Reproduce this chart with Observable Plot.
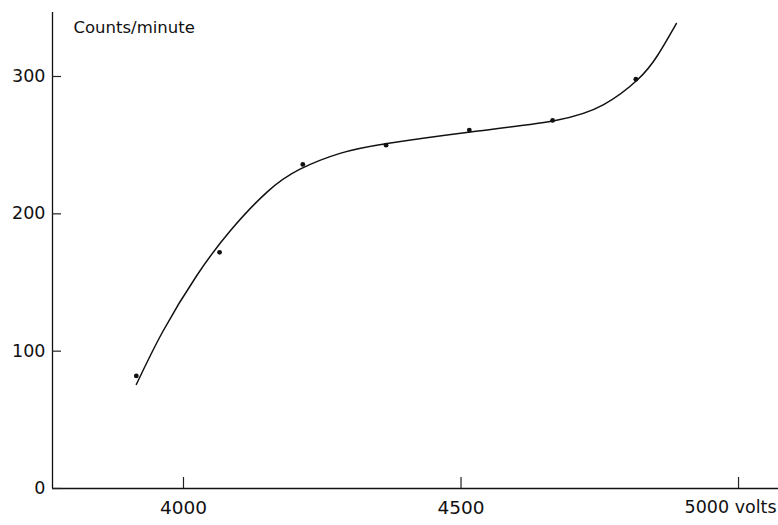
<!DOCTYPE html>
<html><head><meta charset="utf-8">
<script src="https://cdn.jsdelivr.net/npm/d3@7"></script>
<script src="https://cdn.jsdelivr.net/npm/@observablehq/plot@0.6"></script>
<style>body{margin:0;background:#fff;}</style>
</head><body><div id="chart"></div>
<script>
// Measured points
const voltage = [3915, 4065, 4215, 4365, 4515, 4665, 4815];
const counts = [82, 172, 236, 250, 261, 268, 298];
// Hand-drawn smooth curve
const curveVoltage = [3915, 3963, 4024, 4084, 4151, 4210, 4282, 4367, 4517, 4670, 4757, 4818, 4854, 4888];
const curveCounts  = [75.7, 114.5, 155.1, 187.5, 216, 232.5, 244, 251.2, 259.6, 268, 279.5, 297.6, 315.3, 338.6];
const xTicks = [4000, 4500, 5000];
const xLabelTicks = [4000, 4500];
const xLastTick = [5000];
const yTicks = [0, 100, 200, 300];
const yLabel = "Counts/minute";
const xUnit = "volts";
const xDomain = [3764, 5072];
const yDomain = [0, 346.6];

const W = 778, H = 525, ML = 52, MR = 0, MT = 12, MB = 37;
const frameW = W - ML - MR, frameH = H - MT - MB;
const pxPerVolt = frameW / (xDomain[1] - xDomain[0]);
const pxPerCount = frameH / (yDomain[1] - yDomain[0]);
const points = voltage.map((v, i) => ({v, c: counts[i]}));
const curve = curveVoltage.map((v, i) => ({v, c: curveCounts[i]}));
const xTickData = xTicks.map(v => ({v}));
const yTickData = yTicks.map(c => ({c}));

const chart = Plot.plot({
  width: W,
  height: H,
  marginLeft: ML,
  marginRight: MR,
  marginTop: MT,
  marginBottom: MB,
  style: {fontFamily: "DejaVu Sans, sans-serif", fontSize: "17px", color: "#111", background: "white"},
  x: {domain: xDomain},
  y: {domain: yDomain},
  marks: [
    Plot.ruleX([xDomain[0]], {stroke: "#111", strokeWidth: 1.3}),
    Plot.ruleY([0], {stroke: "#111", strokeWidth: 1.3}),
    // inward ticks: short segments rising from / pointing into the frame
    Plot.ruleX(xTickData, {x: "v", y1: () => yDomain[0], y2: () => yDomain[0] + 11 / pxPerCount, stroke: "#222", strokeWidth: 1.2}),
    Plot.ruleY(yTickData, {y: "c", x1: () => xDomain[0], x2: () => xDomain[0] + 9 / pxPerVolt, stroke: "#222", strokeWidth: 1.2}),
    Plot.axisY(yTicks, {tickSize: 0, tickPadding: 7, label: null, fontSize: 17.5, tickFormat: d => String(d)}),
    Plot.axisX(xLabelTicks, {tickSize: 0, tickPadding: 12, label: null, fontSize: 18.5, tickFormat: d => String(d)}),
    Plot.axisX(xLastTick, {tickSize: 0, tickPadding: 12, label: null, fontSize: 17.5, textAnchor: "start", dx: -54, tickFormat: d => `${d} ${xUnit}`}),
    Plot.text([yLabel], {text: d => d, frameAnchor: "top-left", dx: 21, dy: 9, textAnchor: "start", fontSize: 16.5}),
    Plot.line(curve, {x: "v", y: "c", curve: "natural", stroke: "#111", strokeWidth: 1.5}),
    Plot.dot(points, {x: "v", y: "c", r: 2.4, fill: "#111"})
  ]
});
document.getElementById("chart").append(chart);
</script>
</body></html>
